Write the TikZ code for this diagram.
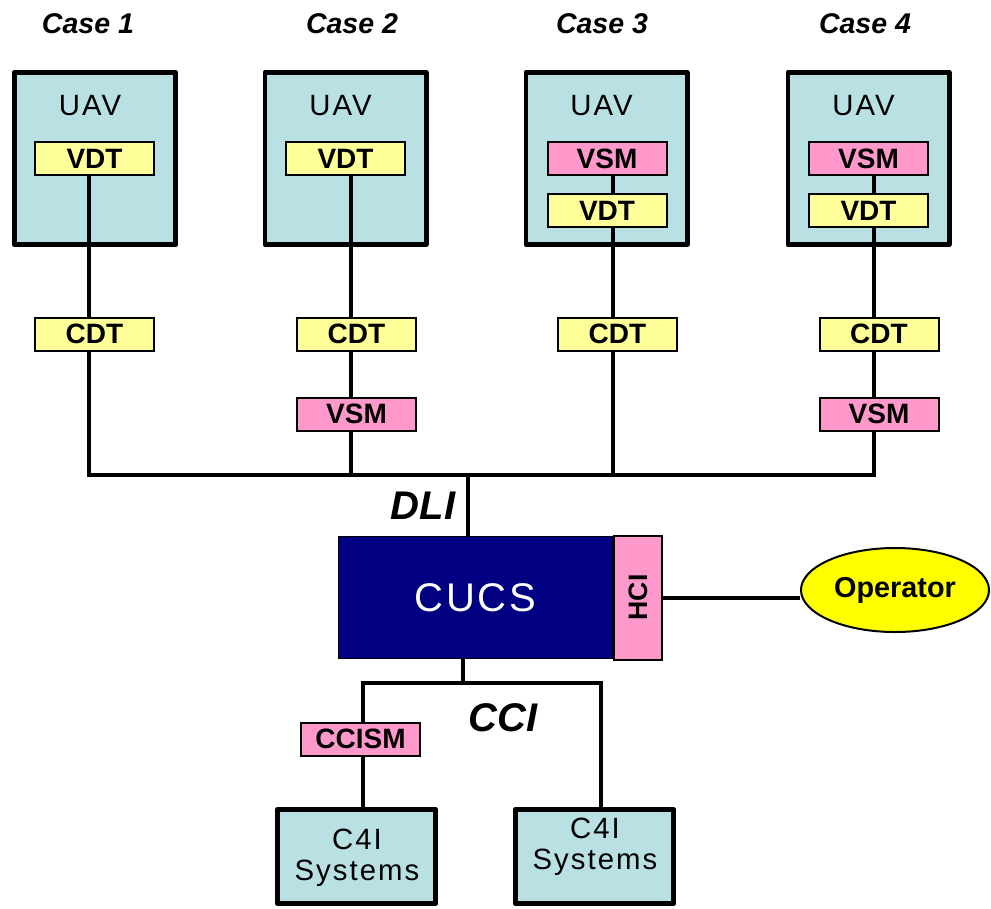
\documentclass[tikz,border=0pt]{standalone}
\usepackage{fontspec}
\setmainfont{Liberation Sans}
\newfontfamily\widesans[LetterSpace=7]{Liberation Sans}
\usepackage{graphicx}
\usepackage{xcolor}
\usepackage{tikz}
\usetikzlibrary{positioning, shapes.geometric, calc}

\definecolor{uavcyan}{RGB}{185,224,227}
\definecolor{dtyellow}{RGB}{255,255,153}
\definecolor{smpink}{RGB}{255,153,204}
\definecolor{cucsnavy}{RGB}{0,0,128}
\definecolor{opyellow}{RGB}{255,255,0}

\begin{document}
\begin{tikzpicture}[
		x=0.75pt, y=-0.75pt,
		node distance=12.75pt,
		% --- ESTILOS ---
		uavblock/.style={
			rectangle, draw, line width=3.5pt, line join=round, fill=uavcyan, inner sep=0pt,
			minimum width=121pt, minimum height=129.25pt
		},
		dtblock/.style={
			rectangle, draw, line width=1.5pt, fill=dtyellow, inner sep=0pt,
			minimum width=89.25pt, minimum height=24.75pt, font=\bfseries\fontsize{21}{21}\selectfont
		},
		smblock/.style={
			dtblock, fill=smpink
		},
		c4iblock/.style={
			uavblock, minimum width=118.75pt, minimum height=70.75pt
		},
		line/.style={
			draw, line width=3pt, color=black
		},
		caselabel/.style={
			font=\bfseries\itshape\fontsize{21.4}{24}\selectfont, inner sep=0pt, anchor=base
		},
		ifacelabel/.style={
			font=\bfseries\itshape\fontsize{30}{32}\selectfont, inner sep=0pt
		},
		plainlabel/.style={
			font=\widesans\fontsize{22}{23}\selectfont, inner sep=0pt, align=center
		}
		]
		
		\path[use as bounding box, fill=white] (0,0) rectangle (991,908);
		
		% --- 1. Titulos de los casos ---
		\node [caselabel] (case1) at (88,33) {Case 1};
		\node [caselabel] (case2) at (352,33) {Case 2};
		\node [caselabel] (case3) at (602,33) {Case 3};
		\node [caselabel] (case4) at (865,33) {Case 4};
		
		% --- 2. Los UAV ---
		\node [uavblock] (uav1) at (95,158.5) {};
		\node [plainlabel, anchor=base] (uavtxt1) at ($(uav1.north)+(-5,45)$) {UAV};
		\node [dtblock] (vdt1) at (94.5,158.5) {VDT};
		
		\node [uavblock] (uav2) at (345.5,158.5) {};
		\node [plainlabel, anchor=base] (uavtxt2) at ($(uav2.north)+(-5,45)$) {UAV};
		\node [dtblock] (vdt2) at (345.5,158.5) {VDT};
		
		\node [uavblock] (uav3) at (606.5,158.5) {};
		\node [plainlabel, anchor=base] (uavtxt3) at ($(uav3.north)+(-5,45)$) {UAV};
		\node [smblock] (vsm3) at (607,158.5) {VSM};
		\node [dtblock, below=of vsm3] (vdt3) {VDT};
		
		\node [uavblock] (uav4) at (868.5,158.5) {};
		\node [plainlabel, anchor=base] (uavtxt4) at ($(uav4.north)+(-5,45)$) {UAV};
		\node [smblock] (vsm4) at (868.5,158.5) {VSM};
		\node [dtblock, below=of vsm4] (vdt4) {VDT};
		
		% --- 3. CDT y VSM en tierra ---
		\node [dtblock] (cdt1) at (94.5,334) {CDT};
		\node [dtblock] (cdt2) at (356.5,334) {CDT};
		\node [dtblock] (cdt3) at (617.5,334) {CDT};
		\node [dtblock] (cdt4) at (879,334) {CDT};
		\node [smblock, below=33.75pt of cdt2] (vsm2b) {VSM};
		\node [smblock, below=33.75pt of cdt4] (vsm4b) {VSM};
		
		% puntos de union con el bus
		\coordinate (tap1) at (89,475);
		\coordinate (tap2) at (351,475);
		\coordinate (tap3) at (613,475);
		\coordinate (tap4) at (874,475);
		
		% --- 4. Conexiones de cada caso ---
		\draw [line] (vdt1.south -| tap1) -- (cdt1.north -| tap1);
		\draw [line] (cdt1.south -| tap1) -- (tap1) -- (tap4) -- (vsm4b.south -| tap4);
		
		\draw [line] (vdt2.south -| tap2) -- (cdt2.north -| tap2);
		\draw [line] (cdt2.south -| tap2) -- (vsm2b.north -| tap2);
		\draw [line] (vsm2b.south -| tap2) -- (tap2);
		
		\draw [line] (vsm3.south -| tap3) -- (vdt3.north -| tap3);
		\draw [line] (vdt3.south -| tap3) -- (cdt3.north -| tap3);
		\draw [line] (cdt3.south -| tap3) -- (tap3);
		
		\draw [line] (vsm4.south -| tap4) -- (vdt4.north -| tap4);
		\draw [line] (vdt4.south -| tap4) -- (cdt4.north -| tap4);
		\draw [line] (cdt4.south -| tap4) -- (vsm4b.north -| tap4);
		
		% --- 5. CUCS, HCI y operador ---
		\node [rectangle, draw, line width=0.75pt, fill=cucsnavy, text=white, inner sep=0pt,
		minimum width=205.5pt, minimum height=91.5pt, font=\widesans\fontsize{30}{30}\selectfont] (cucs) at (475.5,597.5) {CUCS};
		\node [smblock, right=0pt of cucs, minimum width=36pt, minimum height=93pt,
		font=\bfseries\fontsize{20}{20}\selectfont] (hci) {\rotatebox{90}{HCI}};
		\node [ellipse, draw, line width=1.5pt, fill=opyellow, inner sep=0pt,
		minimum width=141pt, minimum height=63pt, font=\bfseries\fontsize{21.6}{22}\selectfont] (op) at (895,590) {Operator};
		\draw [line] (hci.east) -- (hci.east -| op.west);
		
		\coordinate (tapdli) at (468,475);
		\draw [line] (tapdli) -- (tapdli |- cucs.north) node[midway, ifacelabel, left=8pt] (dli) {DLI};
		
		% --- 6. CCI y sistemas C4I ---
		\coordinate (ccitop) at (463,683);
		\coordinate (ccil) at (363,683);
		\coordinate (ccir) at (601,683);
		
		\node [smblock] (ccism) at (360.5,739) {CCISM};
		\node [c4iblock] (c4i1) at (356.5,856.5) {};
		\node [c4iblock] (c4i2) at (594.5,856.5) {};
		\node [plainlabel] (c4itxt1) at (357,858) {C4I\\Systems};
		\node [plainlabel] (c4itxt2) at (595,847) {C4I\\Systems};
		
		\draw [line] (ccitop |- cucs.south) -- (ccitop);
		\draw [line] (ccism.north -| ccil) -- (ccil) -- (ccir) -- (ccir |- c4i2.north);
		\draw [line] (ccism.south -| ccil) -- (ccil |- c4i1.north);
		\node [ifacelabel] (cci) at (503,718) {CCI};
		
	\end{tikzpicture}
\end{document}
